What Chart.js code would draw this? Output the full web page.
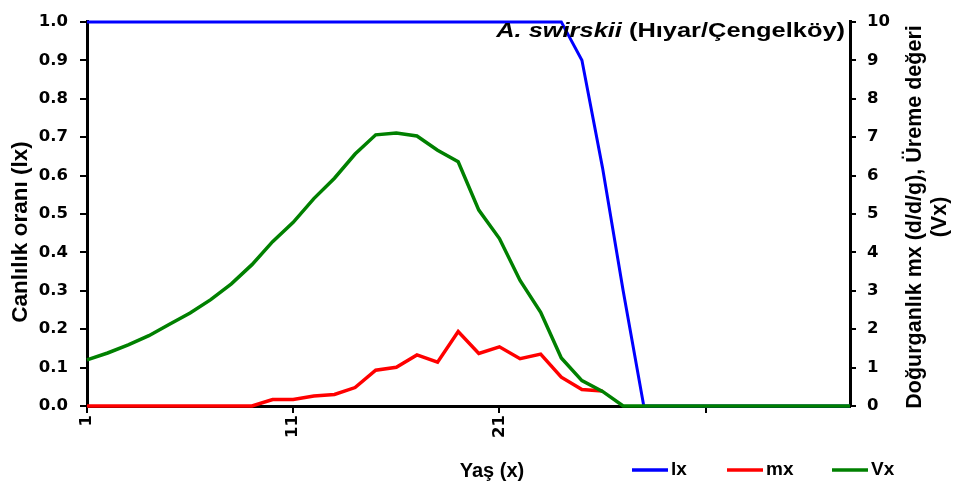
<!DOCTYPE html>
<html lang="tr">
<head>
<meta charset="utf-8">
<title>A. swirskii yaşam tablosu</title>
<script src="https://cdn.jsdelivr.net/npm/chart.js@4.4.1/dist/chart.umd.min.js"></script>
<style>
    html, body { margin: 0; padding: 0; background: #fff; }
    #wrap { width: 955px; height: 491px; position: relative; }
</style>
</head>
<body>
<div id="wrap"><canvas id="lifeTable"></canvas></div>
<script>
// Age in days
const ages = [1, 2, 3, 4, 5, 6, 7, 8, 9, 10, 11, 12, 13, 14, 15, 16, 17, 18, 19,
    20, 21, 22, 23, 24, 25, 26, 27, 28, 29, 30, 31, 32, 33, 34, 35, 36, 37, 38];

// Survival (lx), left axis
const lx = [1, 1, 1, 1, 1, 1, 1, 1, 1, 1, 1, 1, 1, 1, 1, 1, 1, 1, 1, 1, 1, 1, 1, 1,
    0.90, 0.62, 0.30, 0, 0, 0, 0, 0, 0, 0, 0, 0, 0, 0];

// Fecundity (mx), right axis
const mx = [0, 0, 0, 0, 0, 0, 0, 0, 0, 0.17, 0.17, 0.26, 0.30, 0.48, 0.93, 1.01, 1.33,
    1.14, 1.94, 1.37, 1.54, 1.23, 1.35, 0.75, 0.43, 0.39,
    null, null, null, null, null, null, null, null, null, null, null, null];

// Reproductive value (Vx), right axis
const vx = [1.20, 1.38, 1.59, 1.83, 2.13, 2.42, 2.77, 3.18, 3.68, 4.28, 4.78, 5.40, 5.93,
    6.56, 7.06, 7.11, 7.03, 6.66, 6.36, 5.10, 4.36, 3.27, 2.44, 1.25, 0.66, 0.38,
    0, 0, 0, 0, 0, 0, 0, 0, 0, 0, 0, 0];

// Labels printed under every tenth age; the last tick stays blank
const xTickLabels = ['1', '11', '21', ''];

const seriesNames = ['lx', 'mx', 'Vx'];
const seriesColors = ['#0000ff', '#ff0000', '#008000'];

const tickFont = { family: "'DejaVu Sans'", size: 16.5, weight: 'bold' };
const textFamily = "'Liberation Sans', Arial, sans-serif";

// Titles, axis names and the legend are painted straight on the canvas
const annotations = {
    id: 'annotations',
    afterDraw(chart) {
        const ctx = chart.ctx;
        ctx.save();
        ctx.fillStyle = '#000';
        ctx.textBaseline = 'alphabetic';

        // chart title, right aligned inside the plot
        ctx.save();
        ctx.translate(845, 37);
        ctx.scale(1.21, 1);
        ctx.font = `bold 21px ${textFamily}`;
        const rest = ' (Hıyar/Çengelköy)';
        const restW = ctx.measureText(rest).width;
        ctx.textAlign = 'right';
        ctx.fillText(rest, 0, 0);
        ctx.font = `italic bold 21px ${textFamily}`;
        ctx.fillText('A. swirskii', -restW, 0);
        ctx.restore();

        // left axis name
        ctx.save();
        ctx.translate(21, 232);
        ctx.rotate(-Math.PI / 2);
        ctx.font = `bold 22.5px ${textFamily}`;
        ctx.textAlign = 'center';
        ctx.textBaseline = 'middle';
        ctx.fillText('Canlılık oranı (lx)', 0, 0);
        ctx.restore();

        // right axis name, two lines
        ctx.save();
        ctx.translate(915, 217);
        ctx.rotate(-Math.PI / 2);
        ctx.font = `bold 21.5px ${textFamily}`;
        ctx.textAlign = 'center';
        ctx.textBaseline = 'middle';
        ctx.fillText('Doğurganlık mx (d/d/g), Üreme değeri', 0, 0);
        ctx.fillText('(Vx)', 0, 25);
        ctx.restore();

        // x axis name
        ctx.font = `bold 20px ${textFamily}`;
        ctx.textAlign = 'center';
        ctx.textBaseline = 'middle';
        ctx.fillText('Yaş (x)', 492, 471);

        // legend
        const legendX = [632, 727, 832];
        ctx.font = `bold 19px ${textFamily}`;
        ctx.textAlign = 'left';
        chart.data.datasets.forEach((ds, i) => {
            const x0 = legendX[i];
            ctx.strokeStyle = ds.borderColor;
            ctx.lineWidth = 3.5;
            ctx.beginPath();
            ctx.moveTo(x0, 470);
            ctx.lineTo(x0 + 36, 470);
            ctx.stroke();
            ctx.fillText(ds.label, x0 + 39, 470);
        });
        ctx.restore();
    }
};

const ctx = document.getElementById('lifeTable').getContext('2d');
new Chart(ctx, {
    type: 'line',
    data: {
        labels: ages,
        datasets: [
            { label: seriesNames[0], data: lx, yAxisID: 'yL', borderColor: seriesColors[0], borderWidth: 3, order: 2 },
            { label: seriesNames[1], data: mx, yAxisID: 'yR', borderColor: seriesColors[1], borderWidth: 3.5, order: 1 },
            { label: seriesNames[2], data: vx, yAxisID: 'yR', borderColor: seriesColors[2], borderWidth: 3.5, order: 0 }
        ].map(ds => Object.assign(ds, { pointRadius: 0, tension: 0, fill: false, clip: 6, spanGaps: false }))
    },
    options: {
        responsive: true,
        maintainAspectRatio: false,
        animation: false,
        layout: { padding: { top: 17, left: 0, right: 0, bottom: 0 } },
        plugins: {
            legend: { display: false },
            tooltip: { enabled: false }
        },
        scales: {
            x: {
                type: 'category',
                offset: false,
                afterFit: (scale) => { scale.height = 85; },
                grid: { drawOnChartArea: false, drawTicks: true, tickLength: 7, color: '#000', lineWidth: 2 },
                border: { display: true, color: '#000', width: 3 },
                ticks: {
                    autoSkip: false,
                    maxRotation: 90,
                    minRotation: 90,
                    padding: 2,
                    color: '#000',
                    font: tickFont,
                    callback: (val, idx) => idx % 10 === 0 ? xTickLabels[idx / 10] : null
                }
            },
            yL: {
                position: 'left',
                min: 0,
                max: 1,
                afterFit: (scale) => { scale.width = 87; },
                grid: { drawOnChartArea: false, drawTicks: true, tickLength: 7, color: '#000', lineWidth: 2 },
                border: { display: true, color: '#000', width: 3 },
                ticks: {
                    stepSize: 0.1,
                    padding: 12,
                    color: '#000',
                    font: tickFont,
                    callback: (v) => v.toFixed(1)
                }
            },
            yR: {
                position: 'right',
                min: 0,
                max: 10,
                afterFit: (scale) => { scale.width = 105; },
                grid: { drawOnChartArea: false, drawTicks: true, tickLength: 6, color: '#000', lineWidth: 2 },
                border: { display: true, color: '#000', width: 3 },
                ticks: {
                    stepSize: 1,
                    padding: 11,
                    color: '#000',
                    font: tickFont
                }
            }
        }
    },
    plugins: [annotations]
});
</script>
</body>
</html>
